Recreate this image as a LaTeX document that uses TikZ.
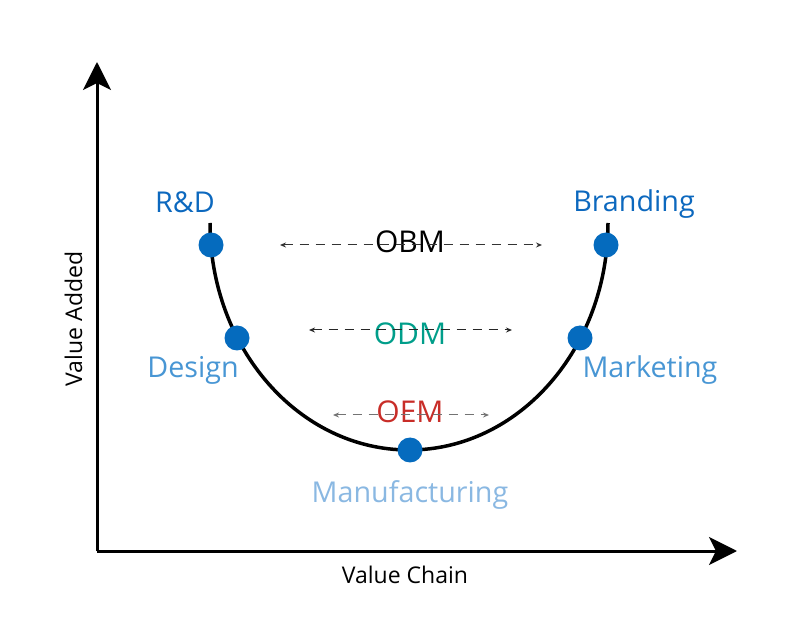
\documentclass[tikz,border=0pt]{standalone}
\usepackage{fontspec}
\setmainfont{Open Sans}
\usetikzlibrary{arrows.meta}
\definecolor{dotblue}{RGB}{5,107,190}
\definecolor{darkblue}{RGB}{12,104,190}
\definecolor{midblue}{RGB}{72,150,212}
\definecolor{lightblue}{RGB}{138,184,226}
\definecolor{odmteal}{RGB}{0,158,138}
\definecolor{oemred}{RGB}{200,45,40}
\tikzset{
  axis/.style={line width=3pt,-{Stealth[length=28pt,width=28pt,inset=7pt]}},
  curve/.style={line width=3.5pt},
  dotnode/.style={circle,fill=dotblue,minimum size=25pt,inner sep=0pt},
  stagelabel/.style={anchor=base,inner sep=0pt,font=\fontsize{28.7}{32}\selectfont},
  modellabel/.style={anchor=base,inner sep=0pt,font=\fontsize{30}{34}\selectfont},
  axislabel/.style={anchor=base,inner sep=0pt,font=\fontsize{23}{26}\selectfont},
  spanarrow/.style={line width=1pt,dash pattern=on 9pt off 7pt,{Stealth[length=6pt,width=5pt]}-{Stealth[length=6pt,width=5pt]}}
}
\begin{document}
\begin{tikzpicture}[x=1pt,y=1pt]
\useasboundingbox (0,0) rectangle (800,640);
% axes
\coordinate (O) at (97,89);
\coordinate (ytip) at (97,578);
\coordinate (xtip) at (737,89);
\draw[axis] (O) -- (ytip);
\draw[axis] (O) -- (xtip);
\node[axislabel] (vc) at (405,57) {Value Chain};
\node[axislabel,rotate=90] (va) at (82,321) {Value Added};
% curve
\coordinate (cstart) at (210,417);
\draw[curve] (cstart) arc[start angle=180,end angle=360,x radius=199,y radius=227];
% model labels and ranges
\node[modellabel,text=black] (obm) at (410,387) {OBM};
\node[modellabel,text=odmteal] (odm) at (410,295) {ODM};
\node[modellabel,text=oemred] (oem) at (410,217) {OEM};
\coordinate (obmL) at (280,395);
\coordinate (obmR) at (542,395);
\coordinate (odmL) at (309,310);
\coordinate (odmR) at (512,310);
\coordinate (oemL) at (333,225);
\coordinate (oemR) at (489,225);
\draw[spanarrow,draw=black!80] (obmL) -- (obmR);
\draw[spanarrow,draw=black!85] (odmL) -- (odmR);
\draw[spanarrow,draw=black!55] (oemL) -- (oemR);
% dots
\node[dotnode] (rd) at (211,395) {};
\node[dotnode] (design) at (237,302) {};
\node[dotnode] (manu) at (410,190) {};
\node[dotnode] (mkt) at (580,302) {};
\node[dotnode] (brand) at (606,395) {};
% stage labels
\node[stagelabel,text=darkblue] (rdl) at (185,427) {R\&D};
\node[stagelabel,text=darkblue] (brandl) at (634,428) {Branding};
\node[stagelabel,text=midblue] (designl) at (193,262) {Design};
\node[stagelabel,text=midblue] (mktl) at (650,262) {Marketing};
\node[stagelabel,text=lightblue] (manul) at (410,138) {Manufacturing};
\end{tikzpicture}
\end{document}
